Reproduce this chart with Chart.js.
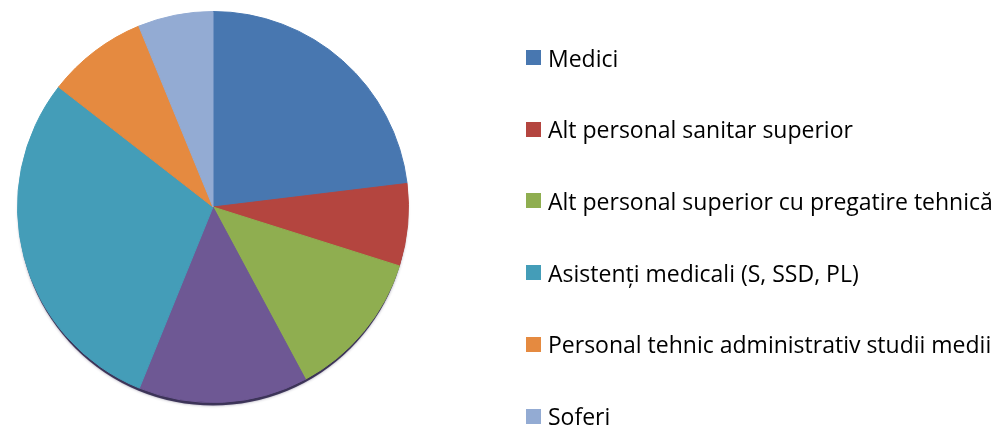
<!DOCTYPE html>
<html>
<head>
<meta charset="utf-8">
<script src="https://cdn.jsdelivr.net/npm/chart.js@4.4.1/dist/chart.umd.min.js"></script>
<style>
  html, body { margin: 0; padding: 0; background: #fff; }
  #wrap { position: relative; width: 1000px; height: 426px; overflow: hidden; }
  #legend { position: absolute; left: 526px; top: 0; margin: 0; padding: 0; list-style: none;
            font-family: 'Open Sans', sans-serif; font-size: 23px; color: #000; }
  #legend li { position: absolute; left: 0; height: 24px; display: flex; align-items: center; white-space: nowrap; }
  #legend .box { display: inline-block; width: 15px; height: 15px; margin-right: 7px; flex: none; }
</style>
</head>
<body>
<div id="wrap">
  <canvas id="pieChart" width="1000" height="426"></canvas>
  <ul id="legend"></ul>
</div>
<script>
// share of staff per category (%); the 4th slice has no legend entry
var categories = ['Medici', 'Alt personal sanitar superior', 'Alt personal superior cu pregatire tehnică', '',
  'Asistenți medicali (S, SSD, PL)', 'Personal tehnic administrativ studii medii', 'Șoferi'];
var shares = [23.1, 6.8, 12.3, 14.0, 29.4, 8.3, 6.2];
var colors = ['#4877B0', '#B4453F', '#8FAE50', '#6E5894', '#449DB8', '#E58A40', '#93ABD3'];

(function() {
  if (typeof Chart === 'undefined') return;

  // soft dark rim under the pie, like the bevelled Excel original
  var pieShadow = {
    id: 'pieShadow',
    beforeDatasetsDraw: function(chart) {
      var arc = chart.getDatasetMeta(0).data[0];
      if (!arc) return;
      var ctx = chart.ctx;
      ctx.save();
      ctx.beginPath();
      ctx.arc(arc.x, arc.y + 4, arc.outerRadius - 1, 0, Math.PI * 2);
      ctx.fillStyle = 'rgba(40, 30, 70, 0.85)';
      ctx.shadowColor = 'rgba(40, 30, 70, 0.5)';
      ctx.shadowBlur = 3;
      ctx.fill();
      ctx.restore();
    }
  };

  var htmlLegend = {
    id: 'htmlLegend',
    afterUpdate: function(chart) {
      var ul = document.getElementById('legend');
      ul.innerHTML = '';
      var items = chart.options.plugins.legend.labels.generateLabels(chart)
        .filter(function(it) { return it.text !== ''; });
      items.forEach(function(it, i) {
        var li = document.createElement('li');
        li.style.top = (45.5 + i * 71.7) + 'px';
        var box = document.createElement('span');
        box.className = 'box';
        box.style.background = it.fillStyle;
        li.appendChild(box);
        li.appendChild(document.createTextNode(it.text));
        ul.appendChild(li);
      });
    }
  };

  new Chart(document.getElementById('pieChart').getContext('2d'), {
    type: 'pie',
    data: {
      labels: categories,
      datasets: [{
        data: shares,
        backgroundColor: colors,
        borderColor: colors,
        borderWidth: 1
      }]
    },
    options: {
      responsive: false,
      animation: false,
      layout: { padding: { left: 0, right: 574, top: 11, bottom: 23 } },
      plugins: {
        legend: { display: false },
        tooltip: { enabled: false }
      }
    },
    plugins: [pieShadow, htmlLegend]
  });
})();
</script>
</body>
</html>
